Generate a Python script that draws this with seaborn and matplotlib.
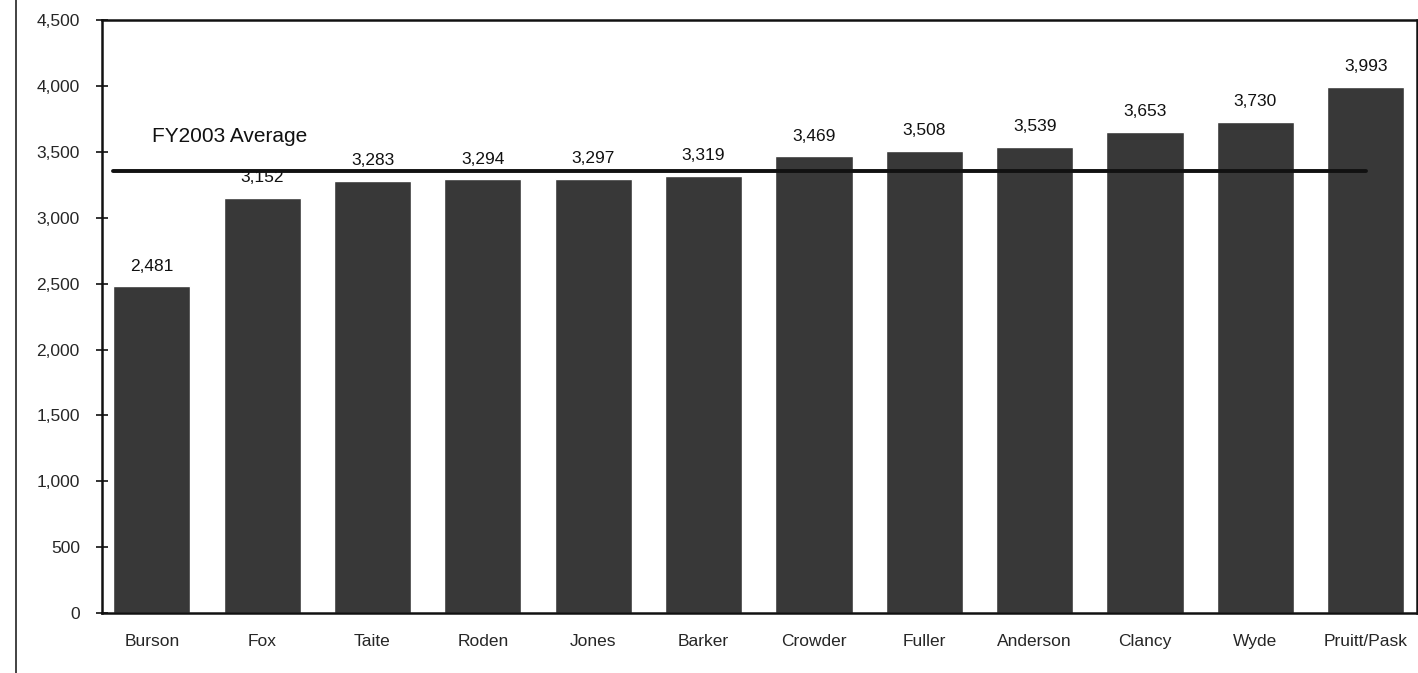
import matplotlib
matplotlib.use("Agg")
import matplotlib.pyplot as plt
import matplotlib.ticker as mticker
from matplotlib.lines import Line2D
import seaborn as sns
import pandas as pd

# データ
names = ["Burson", "Fox", "Taite", "Roden", "Jones", "Barker", "Crowder",
         "Fuller", "Anderson", "Clancy", "Wyde", "Pruitt/Pask"]
values = [2481, 3152, 3283, 3294, 3297, 3319, 3469, 3508, 3539, 3653, 3730, 3993]
average = 3355
average_label = "FY2003 Average"
y_ticks = [0, 500, 1000, 1500, 2000, 2500, 3000, 3500, 4000, 4500]

df = pd.DataFrame({"name": names, "value": values})

sns.set_theme(style="white")
plt.rcParams["font.family"] = ["Liberation Sans", "DejaVu Sans"]

fig = plt.figure(figsize=(14.18, 6.73), dpi=100)
ax = fig.add_axes([0.072, 0.089, 0.927, 0.881])

sns.barplot(data=df, x="name", y="value", color="#383838", width=0.7,
            saturation=1, ax=ax)

# 棒の上の値
for i, v in enumerate(values):
    ax.annotate(f"{v:,}", (i, v), xytext=(0, 9), textcoords="offset points",
                ha="center", va="bottom", fontsize=12.5, color="#111111")

# 平均線
ax.plot([-0.35, 11.0], [average, average], color="#111111", lw=2.8, zorder=5)
ax.text(0.0, 3615, average_label, fontsize=15, color="#111111",
        ha="left", va="center")

ax.set_ylim(0, 4500)
ax.set_xlim(-0.45, 11.46)
ax.set_yticks(y_ticks)
ax.yaxis.set_major_formatter(mticker.FuncFormatter(lambda v, p: f"{int(v):,}"))
ax.tick_params(axis="y", left=True, direction="inout", length=8, width=1.2,
               color="#111111", labelsize=12.5, pad=12)
ax.tick_params(axis="x", bottom=False, length=0, labelsize=12.5, pad=15)
ax.set_xlabel("")
ax.set_ylabel("")
for side in ["left", "bottom", "top", "right"]:
    ax.spines[side].set_visible(True)
    ax.spines[side].set_color("#111111")
    ax.spines[side].set_linewidth(1.8)

# 左端のスキャン線
fig.add_artist(Line2D([0.011, 0.011], [0.0, 1.0], color="#222222", lw=1.2))

fig.savefig("out.png", dpi=100, facecolor="white")
